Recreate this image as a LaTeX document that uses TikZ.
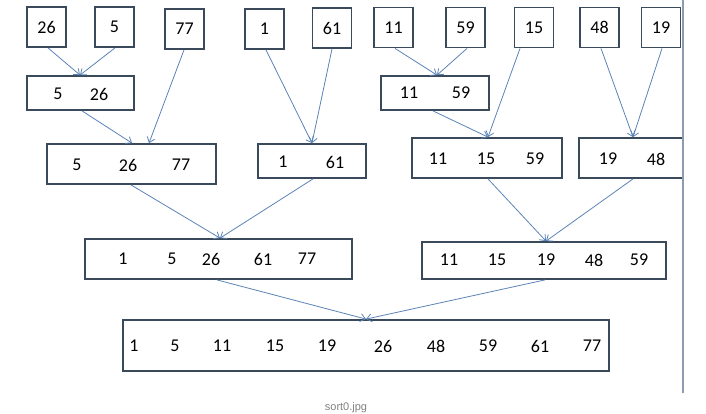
\documentclass[tikz,border=0pt]{standalone}
\usepackage{fontspec}
\setmainfont{Carlito}
\newfontfamily\capfont{Liberation Sans}
\usetikzlibrary{arrows.meta}
\definecolor{boxline}{HTML}{3B4A5A}
\definecolor{arrowblue}{HTML}{5B83B5}
\definecolor{pageline}{HTML}{8E9BB2}

\begin{document}
\begin{tikzpicture}[x=1pt, y=-1pt,
    cell/.style={draw=boxline, line width=1.8pt, inner sep=0pt,
        font=\fontsize{18}{20}\selectfont},
    num/.style={inner sep=0pt, font=\fontsize{18}{20}\selectfont},
    merge/.style={draw=arrowblue, line width=0.8pt,
        -{Straight Barb[length=5pt, width=8pt]}}]
    \clip (0,0) rectangle (706,414);
    % single values
    \foreach \v/\x/\y in {26/46.5/27, 5/114.5/27, 77/184.5/29, 1/264.5/29,
        61/332/28, 11/393.5/27.5, 59/465.5/27.5, 15/534/27.5,
        48/599.5/27.5, 19/661/27.5} {
        \node[cell, minimum width=39pt, minimum height=40pt] (b\v) at (\x,\y) {\v};
    }
    % merged boxes
    \node[cell, minimum width=107pt, minimum height=34pt] (b5-26) at (80.5,93) {};
    \node[cell, minimum width=108pt, minimum height=34pt] (b11-59) at (435,93) {};
    \node[cell, minimum width=169pt, minimum height=40pt] (b5-77) at (131.5,164) {};
    \node[cell, minimum width=108pt, minimum height=34pt] (b1-61) at (312,161) {};
    \node[cell, minimum width=150pt, minimum height=40pt] (b11-15) at (487,158) {};
    \node[cell, minimum width=104pt, minimum height=40pt] (b19-48) at (631,158) {};
    \node[cell, minimum width=267pt, minimum height=40pt] (b1-77) at (218.5,259) {};
    \node[cell, minimum width=244pt, minimum height=37pt] (b11-59r) at (544,260.5) {};
    \node[cell, minimum width=486pt, minimum height=51pt] (ball) at (366,345.5) {};
    \foreach \v/\x in {5/58, 26/99}
        \node[num] (t5-26-\v) at (\x,94) {\v};
    \foreach \v/\x in {11/409, 59/461}
        \node[num] (t11-59-\v) at (\x,93) {\v};
    \foreach \v/\x in {5/77, 26/128, 77/181}
        \node[num] (t5-77-\v) at (\x,165) {\v};
    \foreach \v/\x in {1/283, 61/335}
        \node[num] (t1-61-\v) at (\x,162) {\v};
    \foreach \v/\x in {11/438, 15/486, 59/535}
        \node[num] (t11-15-\v) at (\x,159) {\v};
    \foreach \v/\x in {19/608, 48/656}
        \node[num] (t19-48-\v) at (\x,159) {\v};
    \foreach \v/\x in {1/123, 5/172, 26/211, 61/263, 77/307}
        \node[num] (t1-77-\v) at (\x,259) {\v};
    \foreach \v/\x in {11/449, 15/497, 19/546, 48/594, 59/639}
        \node[num] (t11-59r-\v) at (\x,260) {\v};
    \foreach \v/\x in {1/134, 5/175, 11/222, 15/275, 19/327, 26/383,
        48/436, 59/488, 61/540, 77/592}
        \node[num] (tall-\v) at (\x,346) {\v};
    % merge arrows
    \foreach \a/\sa/\b/\sb in {b26/1.5/b5-26/-0.5, b5/0.5/b5-26/-0.5,
        b77/-0.5/b5-77/17.5, b5-26/1.5/b5-77/0.5,
        b1/1.5/b1-61/0, b61/0/b1-61/0,
        b11/1.5/b11-59/2, b59/1.5/b11-59/2,
        b15/-14/b11-15/1, b11-59/-2/b11-15/1,
        b48/1.5/b19-48/2, b19/1/b19-48/2,
        b5-77/-0.5/b1-77/1.5, b1-61/1/b1-77/1.5,
        b11-15/1/b11-59r/2, b19-48/2/b11-59r/2,
        b1-77/-1.5/ball/0, b11-59r/1/ball/0} {
        \draw[merge] ([xshift=\sa pt]\a.south) -- ([xshift=\sb pt]\b.north);
    }
    \draw[pageline, line width=2.5pt] (683,0) -- (683,393);
    \node[anchor=north, inner sep=0pt, text=gray,
        font=\capfont\fontsize{11}{13}\selectfont] (caption) at (346,402) {sort0.jpg};
\end{tikzpicture}
\end{document}
